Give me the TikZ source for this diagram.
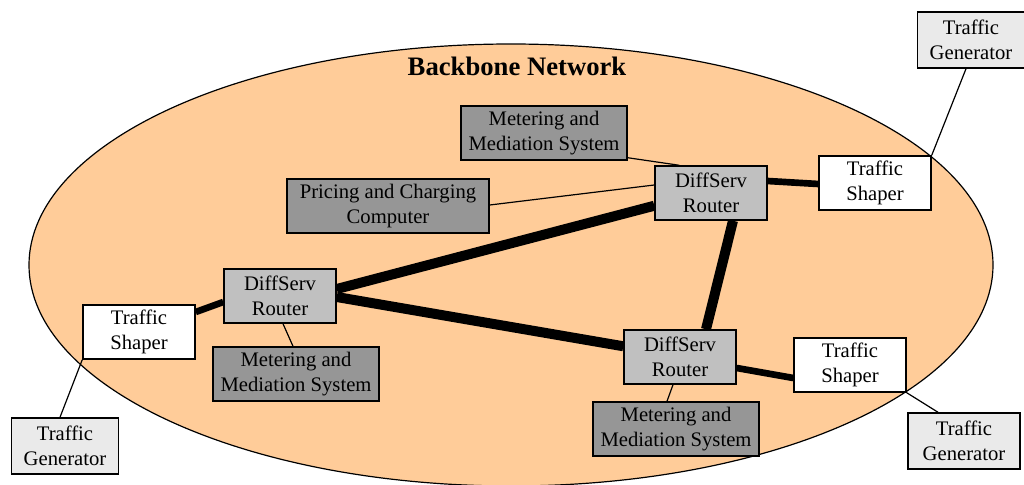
\documentclass[tikz,border=0pt]{standalone}
\usepackage{fontspec}
\setmainfont{Liberation Serif}
\usetikzlibrary{positioning}

\definecolor{peach}{RGB}{255,204,153}
\definecolor{routergray}{RGB}{192,192,192}
\definecolor{metergray}{RGB}{150,150,150}
\definecolor{gengray}{RGB}{234,234,234}

\begin{document}
\begin{tikzpicture}[x=0.75pt, y=-0.75pt,
    box/.style={draw, line width=1.1pt, align=center, inner sep=1pt,
        font=\fontsize{15.5}{18.5}\selectfont, minimum height=40.5pt},
    router/.style={box, fill=routergray, minimum width=84pt},
    shaper/.style={box, fill=white, minimum width=84pt},
    meter/.style={box, fill=metergray, minimum width=124.5pt},
    generator/.style={box, fill=gengray, minimum width=80pt, minimum height=42pt},
    thin/.style={line width=0.9pt},
    fat/.style={line width=7.5pt},
    mid/.style={line width=5pt}]
    \useasboundingbox (0,0) rectangle (1024,485);

    % Backbone
    \draw[fill=peach, line width=0.9pt] (511,265) ellipse [x radius=482, y radius=221];
    \node[font=\fontsize{20}{24}\selectfont\bfseries] (title) at (517,66) {Backbone Network};

    % Nodes
    \node[router] (rtop) at (711,193) {DiffServ\\Router};
    \node[router] (rleft) at (280,296) {DiffServ\\Router};
    \node[router] (rbot) at (680,357) {DiffServ\\Router};

    \node[shaper] (stop) at (875,183) {Traffic\\Shaper};
    \node[shaper] (sleft) at (139,332) {Traffic\\Shaper};
    \node[shaper] (sright) at (850,365) {Traffic\\Shaper};

    \node[meter] (mtop) at (544,133) {Metering and\\Mediation System};
    \node[meter] (mleft) at (296,374) {Metering and\\Mediation System};
    \node[meter] (mbot) at (676,429) {Metering and\\Mediation System};
    \node[meter, minimum width=151.5pt] (pcc) at (388,206) {Pricing and Charging\\Computer};

    \node[generator] (gtop) at (971,40) {Traffic\\Generator};
    \node[generator] (gleft) at (65,446) {Traffic\\Generator};
    \node[generator, minimum width=84pt] (gright) at (964,441) {Traffic\\Generator};

    % Paths
    \draw[fat] ([yshift=5.25]rleft.east) -- ([yshift=11.25]rtop.south west);
    \draw[fat] ([yshift=-0.75]rleft.east) -- ([yshift=-12.75]rbot.north west);
    \draw[fat] ([xshift=16.5]rtop.south) -- ([xshift=19.5]rbot.north);
    \draw[mid] ([yshift=9]rtop.east) -- ([yshift=-0.75]stop.west);
    \draw[mid] ([yshift=-4.5]rleft.west) -- ([yshift=15]sleft.east);
    \draw[mid] ([yshift=-8.25]rbot.east) -- ([yshift=-9.75]sright.west);

    \draw[thin] ([yshift=2.25]mtop.south east) -- ([xshift=18.75]rtop.north west);
    \draw[thin] ([yshift=0.75]pcc.east) -- ([yshift=6]rtop.west);
    \draw[thin] ([xshift=2.25]rleft.south) -- ([xshift=-2.25]mleft.north);
    \draw[thin] ([xshift=-5.25]rbot.south) -- ([xshift=-6.75]mbot.north);

    \draw[thin] ([xshift=-3.75]gtop.south) -- (stop.north east);
    \draw[thin] (sleft.south west) -- ([xshift=-3.75]gleft.north);
    \draw[thin] (sright.south east) -- ([xshift=-19.5]gright.north);
\end{tikzpicture}
\end{document}
